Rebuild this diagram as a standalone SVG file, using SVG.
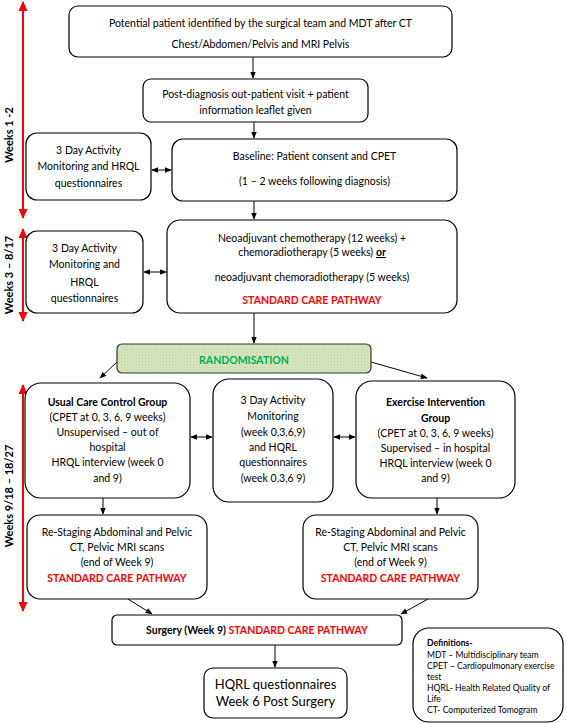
<svg xmlns="http://www.w3.org/2000/svg" width="567" height="724" viewBox="0 0 567 724">
<defs>
<marker id="ah" viewBox="0 0 10 10" refX="9" refY="5" markerWidth="7" markerHeight="7" orient="auto-start-reverse"><path d="M0,1 L10,5 L0,9 z" fill="#000"/></marker>
<marker id="rh" viewBox="0 0 10 10" refX="9" refY="5" markerWidth="5" markerHeight="5" orient="auto-start-reverse"><path d="M0,0.5 L10,5 L0,9.5 z" fill="#f00"/></marker>
<pattern id="dots" width="3" height="3" patternUnits="userSpaceOnUse"><rect width="3" height="3" fill="#d5e3bb"/><rect x="1" y="1" width="1" height="1" fill="#c2d4a4"/></pattern>
</defs>
<style>
.b{fill:#fff;stroke:#000;stroke-width:1.2}
text{font-family:Lato,"Liberation Sans",sans-serif;font-size:10.5px;fill:#000;text-anchor:middle}
.bd{font-weight:bold}
.red{fill:#f00;font-weight:bold}
.c{stroke:#000;stroke-width:1;fill:none;marker-end:url(#ah)}
.d{stroke:#000;stroke-width:1;fill:none;marker-end:url(#ah);marker-start:url(#ah)}
.r{stroke:#f00;stroke-width:2;fill:none;marker-end:url(#rh);marker-start:url(#rh)}
.lab{font-weight:bold;font-size:11px}
.def{text-anchor:start;font-size:8.6px}
</style>

<g id="timeline">
<line class="r" x1="23" y1="2" x2="23" y2="218"/>
<line class="r" x1="23" y1="229" x2="23" y2="321"/>
<line class="r" x1="23" y1="385" x2="23" y2="611"/>
<text class="lab" transform="translate(13,135) rotate(-90)">Weeks 1 -2</text>
<text class="lab" transform="translate(13,275) rotate(-90)">Weeks 3 – 8/17</text>
<text class="lab" transform="translate(13,496) rotate(-90)">Weeks 9/18 – 18/27</text>
</g>

<g id="connectors">
<line class="c" x1="253" y1="57" x2="253" y2="78"/>
<line class="c" x1="254" y1="122" x2="254" y2="138"/>
<line class="d" x1="152" y1="170" x2="171" y2="170"/>
<line class="c" x1="254" y1="201" x2="254" y2="219"/>
<line class="d" x1="144" y1="272" x2="166" y2="272"/>
<line class="c" x1="254" y1="313" x2="254" y2="343"/>
<line class="c" x1="117" y1="362" x2="100" y2="378"/>
<line class="c" x1="371" y1="362" x2="427" y2="378"/>
<line class="d" x1="191" y1="437" x2="212" y2="437"/>
<line class="d" x1="334" y1="437" x2="355" y2="437"/>
<line class="c" x1="103" y1="498" x2="103" y2="514"/>
<line class="c" x1="437" y1="498" x2="437" y2="514"/>
<line class="c" x1="128" y1="599" x2="152" y2="614"/>
<line class="c" x1="428" y1="599" x2="401" y2="614"/>
<line class="c" x1="275" y1="645" x2="275" y2="667"/>
</g>

<g id="n1">
<rect class="b" x="69" y="6" width="383" height="51" rx="9"/>
<text x="260.5" y="27">Potential patient identified by the surgical team and MDT after CT</text>
<text x="260.5" y="48">Chest/Abdomen/Pelvis and MRI Pelvis</text>
</g>

<g id="n2">
<rect class="b" x="143" y="79" width="225" height="43" rx="8"/>
<text x="255.5" y="98">Post-diagnosis out-patient visit + patient</text>
<text x="255.5" y="114">information leaflet given</text>
</g>

<g id="n3a">
<rect class="b" x="26" y="133" width="125" height="67" rx="11"/>
<text x="88.5" y="154">3 Day Activity</text>
<text x="88.5" y="170">Monitoring and HRQL</text>
<text x="88.5" y="187">questionnaires</text>
</g>

<g id="n3">
<rect class="b" x="172" y="139" width="285" height="62" rx="11"/>
<text x="314.5" y="160">Baseline: Patient consent and CPET</text>
<text x="314.5" y="185">(1 – 2 weeks following diagnosis)</text>
</g>

<g id="n4a">
<rect class="b" x="26" y="231" width="117" height="82" rx="11"/>
<text x="84.5" y="252">3 Day Activity</text>
<text x="84.5" y="268">Monitoring and</text>
<text x="84.5" y="286">HRQL</text>
<text x="84.5" y="302">questionnaires</text>
</g>

<g id="n4">
<rect class="b" x="167" y="220" width="290" height="93" rx="13"/>
<text x="312" y="242">Neoadjuvant chemotherapy (12 weeks) +</text>
<text x="312" y="256">chemoradiotherapy (5 weeks) <tspan class="bd" text-decoration="underline">or</tspan></text>
<text x="312" y="281">neoadjuvant chemoradiotherapy (5 weeks)</text>
<text class="red" x="312" y="304">STANDARD CARE PATHWAY</text>
</g>

<g id="rand">
<rect x="117" y="344" width="254" height="29" rx="5" fill="url(#dots)" stroke="#333" stroke-width="1.2"/>
<text class="bd" x="244" y="364" style="fill:#00b050">RANDOMISATION</text>
</g>

<g id="usual">
<rect class="b" x="25" y="383" width="165" height="115" rx="16"/>
<text class="bd" x="107.5" y="406">Usual Care Control Group</text>
<text x="107.5" y="421">(CPET at 0, 3, 6, 9 weeks)</text>
<text x="107.5" y="436">Unsupervised – out of</text>
<text x="107.5" y="451">hospital</text>
<text x="107.5" y="466">HRQL interview (week 0</text>
<text x="107.5" y="482">and 9)</text>
</g>

<g id="mid">
<rect class="b" x="213" y="379" width="120" height="123" rx="16"/>
<text x="273" y="404">3 Day Activity</text>
<text x="273" y="420">Monitoring</text>
<text x="273" y="436">(week 0,3,6,9)</text>
<text x="273" y="451">and HQRL</text>
<text x="273" y="466">questionnaires</text>
<text x="273" y="482">(week 0,3,6 9)</text>
</g>

<g id="exercise">
<rect class="b" x="356" y="381" width="159" height="117" rx="16"/>
<text class="bd" x="435.5" y="406">Exercise Intervention</text>
<text class="bd" x="435.5" y="422">Group</text>
<text x="435.5" y="437">(CPET at 0, 3, 6, 9 weeks)</text>
<text x="435.5" y="452">Supervised – in hospital</text>
<text x="435.5" y="467">HRQL interview (week 0</text>
<text x="435.5" y="482">and 9)</text>
</g>

<g id="restageL">
<rect class="b" x="27" y="515" width="180" height="84" rx="13"/>
<text x="117" y="536">Re-Staging Abdominal and Pelvic</text>
<text x="117" y="551">CT, Pelvic MRI scans</text>
<text x="117" y="566">(end of Week 9)</text>
<text class="red" x="117" y="582">STANDARD CARE PATHWAY</text>
</g>

<g id="restageR">
<rect class="b" x="303" y="515" width="175" height="84" rx="13"/>
<text x="390.5" y="536">Re-Staging Abdominal and Pelvic</text>
<text x="390.5" y="551">CT, Pelvic MRI scans</text>
<text x="390.5" y="566">(end of Week 9)</text>
<text class="red" x="390.5" y="582">STANDARD CARE PATHWAY</text>
</g>

<g id="surgery">
<rect class="b" x="112" y="615" width="290" height="30" rx="5"/>
<text class="bd" x="257" y="634">Surgery (Week 9) <tspan class="red">STANDARD CARE PATHWAY</tspan></text>
</g>

<g id="hqrl">
<rect class="b" x="204" y="668" width="143" height="50" rx="9"/>
<text x="275.5" y="689" style="font-size:13px">HQRL questionnaires</text>
<text x="275.5" y="706" style="font-size:13px">Week 6 Post Surgery</text>
</g>

<g id="defs">
<rect class="b" x="413" y="628" width="150" height="94" rx="16"/>
<text class="def bd" x="427" y="646">Definitions-</text>
<text class="def" x="427" y="658">MDT – Multidisciplinary team</text>
<text class="def" x="427" y="669">CPET – Cardiopulmonary exercise</text>
<text class="def" x="427" y="680">test</text>
<text class="def" x="427" y="691">HQRL- Health Related Quality of</text>
<text class="def" x="427" y="702">Life</text>
<text class="def" x="427" y="713">CT- Computerized Tomogram</text>
</g>
</svg>
